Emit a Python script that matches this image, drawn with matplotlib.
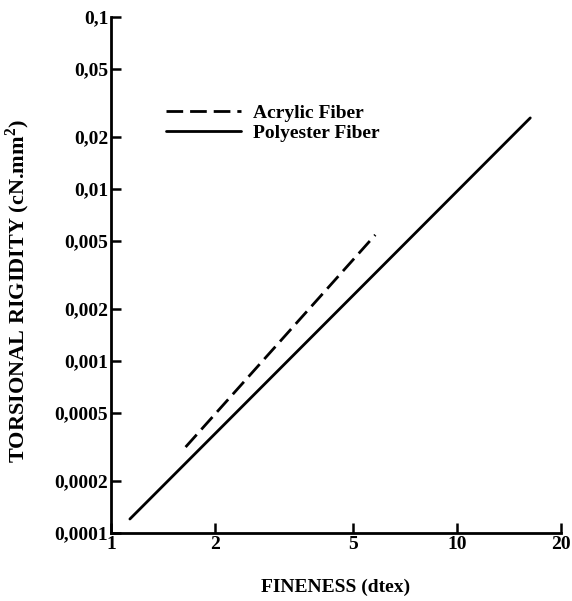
import matplotlib
matplotlib.use("Agg")
import matplotlib.pyplot as plt
from matplotlib.ticker import FixedLocator, NullLocator, FixedFormatter

plt.rcParams['font.family'] = ['Liberation Serif', 'DejaVu Serif']
plt.rcParams['font.weight'] = 'bold'
plt.rcParams['mathtext.fontset'] = 'custom'
plt.rcParams['mathtext.bf'] = 'Liberation Serif:bold'
plt.rcParams['mathtext.rm'] = 'Liberation Serif:bold'

# Data
acrylic_x = [1.643, 5.81]
acrylic_y = [0.000316, 0.00541]
polyester_x = [1.134, 16.3]
polyester_y = [0.0001206, 0.0259]

xticks = [1, 2, 5, 10, 20]
xtick_labels = ['1', '2', '5', '10', '20']
yticks = [0.0001, 0.0002, 0.0005, 0.001, 0.002, 0.005, 0.01, 0.02, 0.05, 0.1]
ytick_labels = ['0,0001', '0,0002', '0,0005', '0,001', '0,002', '0,005',
                '0,01', '0,02', '0,05', '0,1']

fig = plt.figure(figsize=(5.72, 6.01), dpi=100)
ax = fig.add_axes([111/572, 1-533/601, 450/572, 516/601])

ax.plot(acrylic_x, acrylic_y, color='black', lw=2.0, ls=(0, (6, 2.5)),
        label='Acrylic Fiber', solid_capstyle='round')
ax.plot(polyester_x, polyester_y, color='black', lw=2.0, ls='-',
        label='Polyester Fiber', solid_capstyle='round')

ax.set_xscale('log')
ax.set_yscale('log')
ax.set_xlim(1, 20)
ax.set_ylim(0.0001, 0.1)

ax.xaxis.set_major_locator(FixedLocator(xticks))
ax.xaxis.set_major_formatter(FixedFormatter(xtick_labels))
ax.xaxis.set_minor_locator(NullLocator())
ax.yaxis.set_major_locator(FixedLocator(yticks))
ax.yaxis.set_major_formatter(FixedFormatter(ytick_labels))
ax.yaxis.set_minor_locator(NullLocator())

for s in ['top', 'right']:
    ax.spines[s].set_visible(False)
for s in ['left', 'bottom']:
    ax.spines[s].set_linewidth(2.0)

ax.tick_params(axis='both', direction='in', length=7, width=1.8,
               labelsize=14, pad=2)
for lab in ax.get_xticklabels() + ax.get_yticklabels():
    lab.set_fontweight('bold')

ax.set_ylabel('TORSIONAL RIGIDITY (cN.mm$^{2}$)', fontsize=16,
              fontweight='bold')
ax.yaxis.set_label_coords(-0.175, 0.47)
ax.set_xlabel('FINENESS (dtex)', fontsize=14, fontweight='bold')
ax.xaxis.set_label_coords(0.5, -0.088)

leg = ax.legend(loc='upper left', bbox_to_anchor=((166-111)/450, (533-104)/516),
                frameon=False, handlelength=3.85, handletextpad=0.6,
                borderpad=0, borderaxespad=0, labelspacing=0.12,
                prop={'weight': 'bold', 'size': 14})

fig.savefig('out.png', dpi=100)
